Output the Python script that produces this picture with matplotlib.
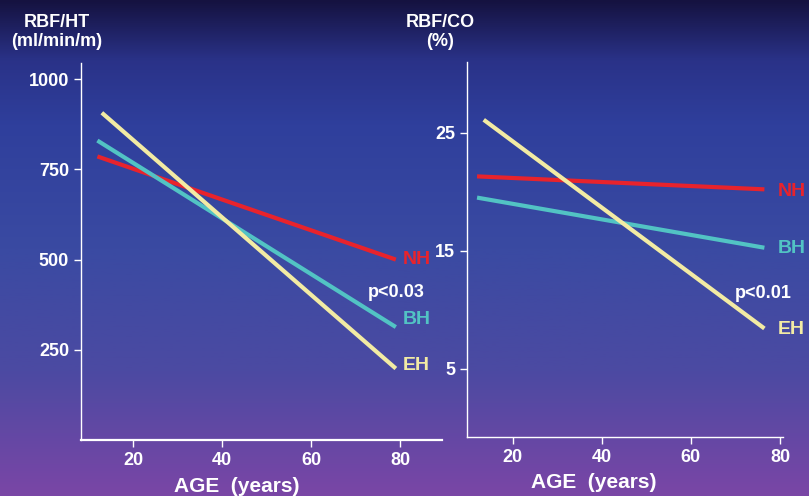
import matplotlib
matplotlib.use("Agg")
import matplotlib.pyplot as plt
import numpy as np
from matplotlib.colors import LinearSegmentedColormap

# left panel: RBF/HT (ml/min/m) vs age, regression line end points
age_ht = [12, 79]
nh_ht = [786, 500]
bh_ht = [830, 313]
eh_ht = [907, 198]
ht_ticks = [250, 500, 750, 1000]

# right panel: RBF/CO (%) vs age
age_co = [12, 76.5]
nh_co = [21.3, 20.2]
bh_co = [19.5, 15.25]
eh_co = [26.1, 8.4]
co_ticks = [5, 15, 25]

x_ticks = [20, 40, 60, 80]
colors = {"NH": "#e8232c", "BH": "#52c3c4", "EH": "#f2eba4"}

plt.rcParams['font.family'] = ['Liberation Sans', 'DejaVu Sans']
plt.rcParams['font.weight'] = 'bold'

fig = plt.figure(figsize=(8.09, 4.96), dpi=100)

# gradient background
bg = fig.add_axes([0, 0, 1, 1], zorder=-10)
cmap = LinearSegmentedColormap.from_list(
    "bg", [(0.0, "#151240"), (0.12, "#2a3288"), (0.25, "#2f3f9c"),
           (0.5, "#3a4aa2"), (0.75, "#4c4aa2"), (1.0, "#7a46a6")])
grad = np.linspace(0, 1, 256).reshape(-1, 1)
bg.imshow(grad, aspect="auto", cmap=cmap, extent=[0, 1, 0, 1])
bg.axis("off")


def style(ax):
    ax.set_facecolor("none")
    for s in ["top", "right"]:
        ax.spines[s].set_visible(False)
    for s in ["left", "bottom"]:
        ax.spines[s].set_color("white")
        ax.spines[s].set_linewidth(1.0)
    ax.tick_params(colors="white", labelsize=13, length=5, width=1)
    for lab in ax.get_xticklabels() + ax.get_yticklabels():
        lab.set_fontweight("bold")


def label(ax, x, y, txt, color, size=14):
    ax.text(x, y, txt, color=color, fontsize=size, fontweight="bold",
            va="center", clip_on=False)


ax1 = fig.add_axes([0.100, 0.113, 0.446, 0.760])
ax1.plot(age_ht, nh_ht, color=colors["NH"], lw=3, solid_capstyle="butt")
ax1.plot(age_ht, bh_ht, color=colors["BH"], lw=3, solid_capstyle="butt")
ax1.plot([age_ht[0] + 1, age_ht[1]], eh_ht, color=colors["EH"], lw=3,
         solid_capstyle="butt")
ax1.set_xlim(8.3, 89.3)
ax1.set_ylim(0, 1045)
ax1.set_xticks(x_ticks)
ax1.set_yticks(ht_ticks)
style(ax1)
ax1.spines["bottom"].set_linewidth(1.6)
label(ax1, 80.5, nh_ht[1], "NH", colors["NH"])
label(ax1, 80.5, 335, "BH", colors["BH"])
label(ax1, 80.5, 206, "EH", colors["EH"])
label(ax1, 72.6, 409, "p<0.03", "white", 13)

ax2 = fig.add_axes([0.577, 0.119, 0.391, 0.756])
ax2.plot(age_co, nh_co, color=colors["NH"], lw=3, solid_capstyle="butt")
ax2.plot(age_co, bh_co, color=colors["BH"], lw=3, solid_capstyle="butt")
ax2.plot([age_co[0] + 1.5, age_co[1]], eh_co, color=colors["EH"], lw=3,
         solid_capstyle="butt")
ax2.set_xlim(9.7, 80.7)
ax2.set_ylim(-0.8, 31)
ax2.set_xticks(x_ticks)
ax2.set_yticks(co_ticks)
style(ax2)
label(ax2, 79.5, 20.0, "NH", colors["NH"])
label(ax2, 79.5, 15.2, "BH", colors["BH"])
label(ax2, 79.5, 8.3, "EH", colors["EH"])
label(ax2, 69.9, 11.4, "p<0.01", "white", 13)

fig.text(57 / 809, 1 - 32 / 496, "RBF/HT\n(ml/min/m)", color="white",
         fontsize=13, fontweight="bold", ha="center", va="center",
         linespacing=1.2)
fig.text(440 / 809, 1 - 32 / 496, "RBF/CO\n(%)", color="white",
         fontsize=13, fontweight="bold", ha="center", va="center",
         linespacing=1.2)
fig.text(237 / 809, 1 - 486 / 496, "AGE  (years)", color="white",
         fontsize=15, fontweight="bold", ha="center", va="center")
fig.text(594 / 809, 1 - 483 / 496, "AGE  (years)", color="white",
         fontsize=15, fontweight="bold", ha="center", va="center")

fig.savefig("out.png", dpi=100)
